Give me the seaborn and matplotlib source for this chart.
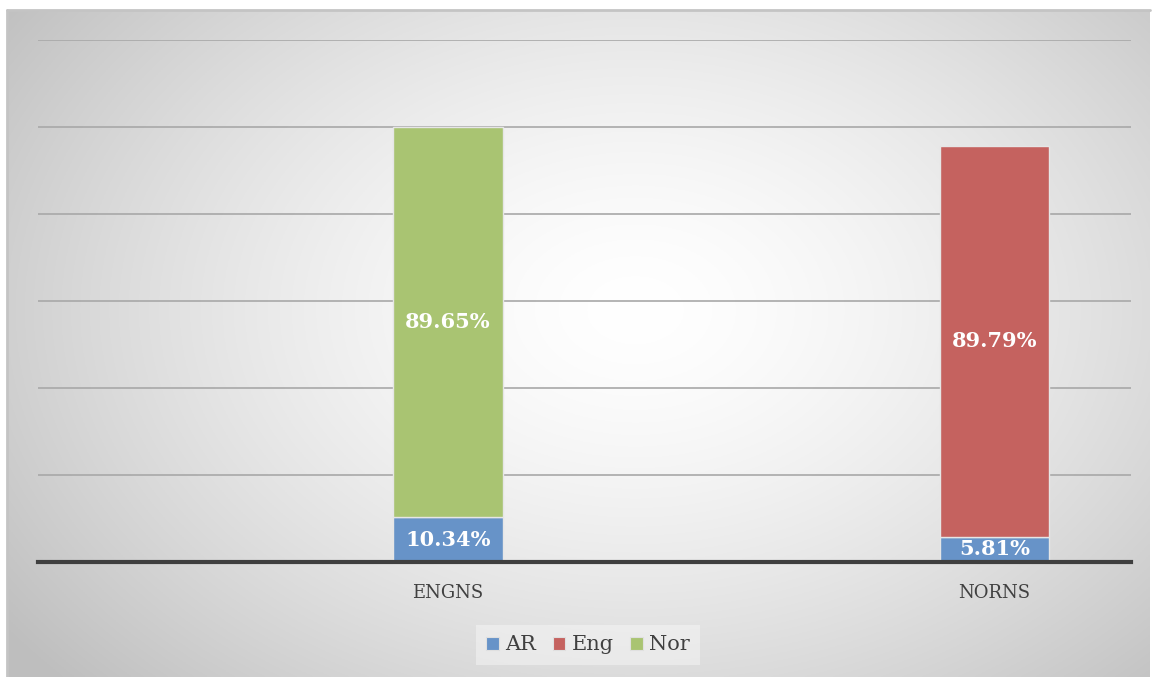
import numpy as np
import pandas as pd
import matplotlib
matplotlib.use("Agg")
import matplotlib.pyplot as plt
from matplotlib.patches import Patch
import seaborn as sns

# Share of each language per group (percent)
categories = ["ENGNS", "NORNS"]
series_names = ["AR", "Eng", "Nor"]
ar_values = [10.34, 5.81]
eng_values = [0.0, 89.79]
nor_values = [89.65, 0.0]
series_colors = {"AR": "#6793c8", "Eng": "#c5625f", "Nor": "#a9c472"}

rows = []
for name, vals in zip(series_names, [ar_values, eng_values, nor_values]):
    for cat, v in zip(categories, vals):
        rows.append({"group": cat, "series": name, "value": v})
df = pd.DataFrame(rows)

sns.set_theme(style="white")
plt.rcParams["font.family"] = ["DejaVu Serif"]

W, H, DPI = 1152, 677, 100
fig = plt.figure(figsize=(W / DPI, H / DPI), dpi=DPI, facecolor="white")

# Chart area with radial gradient background
fx0, fx1, fy_top = 7, 1150, 10
bg = fig.add_axes([fx0 / W, 0, (fx1 - fx0) / W, (H - fy_top) / H], zorder=0)
gx = np.linspace(0, 1, 600)
gy = np.linspace(0, 1, 400)
GX, GY = np.meshgrid(gx, gy)
cx, cy = 0.55, 0.55
r = np.sqrt(((GX - cx) / 0.62) ** 2 + ((GY - cy) / 0.75) ** 2)
r = np.clip(r, 0, 1.1)
shade = 1.0 - 0.22 * r ** 1.5
bg.imshow(np.dstack([shade] * 3), extent=[0, 1, 0, 1], origin="lower",
          aspect="auto", vmin=0, vmax=1)
bg.set_xlim(0, 1)
bg.set_ylim(0, 1)
bg.axis("off")
bg.plot([0, 1], [1, 1], color="#c4c4c4", lw=2, transform=bg.transAxes, clip_on=False)
bg.plot([0, 0], [0, 1], color="#c4c4c4", lw=2, transform=bg.transAxes, clip_on=False)

ax_left, ax_right = 38, 1131
ax_bottom_px, ax_top_px = 562, 40
ax = fig.add_axes([ax_left / W, (H - ax_bottom_px) / H,
                   (ax_right - ax_left) / W, (ax_bottom_px - ax_top_px) / H], zorder=1)
ax.patch.set_alpha(0)

bottoms = {c: 0.0 for c in categories}
for name in series_names:
    sub = df[(df["series"] == name) & (df["value"] > 0)].copy()
    sub["group"] = pd.Categorical(sub["group"], categories=categories, ordered=True)
    sub = sub.sort_values("group")
    bot = [bottoms[g] for g in sub["group"]]
    sns.barplot(data=sub, x="group", y="value", order=categories,
                color=series_colors[name], saturation=1, width=0.2,
                bottom=bot, edgecolor="#e6e6e6", linewidth=1.0,
                errorbar=None, ax=ax, zorder=3)
    for g, v, b in zip(sub["group"], sub["value"], bot):
        xi = categories.index(g)
        ax.text(xi, b + v / 2, f"{v:.2f}%", ha="center", va="center",
                color="white", fontsize=15, fontweight="bold", zorder=4)
        bottoms[g] = b + v

ax.set_xlim(-0.75, 1.25)
ax.set_ylim(0, 120)
ax.set_yticks(np.arange(0, 121, 20))
ax.set_yticklabels([])
ax.tick_params(axis="y", length=0)
ax.tick_params(axis="x", length=0, pad=16, labelsize=13, labelcolor="#404040")
ax.set_xlabel("")
ax.set_ylabel("")
ax.yaxis.grid(True, color="#a8a8a8", lw=1.2)
ax.set_axisbelow(True)
for s in ["top", "right", "left"]:
    ax.spines[s].set_visible(False)
ax.spines["bottom"].set_color("#3f3f3f")
ax.spines["bottom"].set_linewidth(3)
ax.spines["bottom"].set_zorder(5)

handles = [Patch(facecolor=series_colors[n], edgecolor="#e0e0e0", lw=0.8, label=n)
           for n in series_names]
leg = fig.legend(handles=handles, loc="center", bbox_to_anchor=(588 / W, (H - 645) / H),
                 ncol=3, frameon=True, fontsize=15, handlelength=0.6, handleheight=0.6,
                 handletextpad=0.3, columnspacing=0.8, borderpad=0.5)
leg.get_frame().set_facecolor("#f6f6f6")
leg.get_frame().set_edgecolor("none")
leg.get_frame().set_alpha(0.5)
leg.get_frame().set_boxstyle("square", pad=0.0)
for t in leg.get_texts():
    t.set_color("#404040")

fig.savefig("out.png", dpi=DPI, facecolor="white")
